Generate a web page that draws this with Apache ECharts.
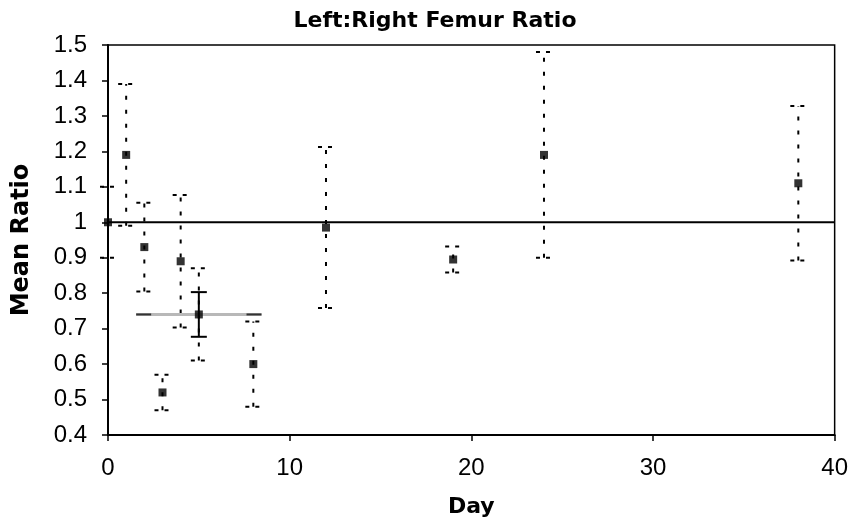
<!DOCTYPE html>
<html>
<head>
<meta charset="utf-8">
<script src="https://cdn.jsdelivr.net/npm/echarts@6/dist/echarts.min.js"></script>
<style>
html,body{margin:0;padding:0;background:#fff;}
#chart{width:851px;height:523px;}
</style>
</head>
<body>
<div id="chart"></div>
<script>
// Data
var days  = [0,   1,    2,    3,    4,    5,    8,    12,    19,    24,   38];
var means = [1.0, 1.19, 0.93, 0.52, 0.89, 0.74, 0.60, 0.985, 0.895, 1.19, 1.11];
var errs  = [0.10,0.20, 0.125,0.05, 0.187,0.13, 0.12, 0.227, 0.037, 0.29, 0.218];
// summary point (solid vertical error bar + grey horizontal bar)
var summaryDay = [5];
var summaryMean = [0.74];
var summaryYErr = [0.063];
var summaryXErr = [3.45];
var yTicks = [0.4,0.5,0.6,0.7,0.8,0.9,1,1.1,1.2,1.3,1.4,1.5];
var xTicks = [0,10,20,30,40];

var FONT = 'Liberation Sans, Arial, sans-serif';
var BFONT = 'DejaVu Sans, sans-serif';
var chart = echarts.init(document.getElementById('chart'));

var pts = days.map(function(d,i){return [d, means[i]];});
var errData = days.map(function(d,i){return [d, means[i]-errs[i], means[i]+errs[i]];});
var sumYData = summaryDay.map(function(d,i){return [d, summaryMean[i]-summaryYErr[i], summaryMean[i]+summaryYErr[i]];});
var sumXData = summaryDay.map(function(d,i){return [d-summaryXErr[i], d+summaryXErr[i], summaryMean[i]];});

function vbar(dashed, cap, color, width){
  return function(params, api){
    var x = api.value(0), lo = api.value(1), hi = api.value(2);
    var pLo = api.coord([x, lo]), pHi = api.coord([x, hi]);
    var st = {stroke: color, lineWidth: width, lineDash: dashed ? [4,10] : null};
    return {type:'group', children:[
      {type:'line', shape:{x1:pLo[0], y1:pLo[1], x2:pHi[0], y2:pHi[1]}, style:st},
      {type:'line', shape:{x1:pLo[0]-cap, y1:pLo[1], x2:pLo[0]+cap, y2:pLo[1]}, style:{stroke:color, lineWidth:width, lineDash: dashed ? [4,6] : null}},
      {type:'line', shape:{x1:pHi[0]-cap, y1:pHi[1], x2:pHi[0]+cap, y2:pHi[1]}, style:{stroke:color, lineWidth:width, lineDash: dashed ? [4,6] : null}}
    ]};
  };
}

chart.setOption({
  backgroundColor:'#fff',
  animation:false,
  title:{text:'Left:Right Femur Ratio', left:430, textAlign:'center', top:5,
    textStyle:{fontFamily:BFONT, fontWeight:'bold', fontSize:22, color:'#000'}},
  grid:{left:108, right:13, top:45, bottom:87, show:true, borderColor:'#000', borderWidth:1.5, backgroundColor:'#fff'},
  xAxis:{type:'value', min:0, max:40, interval:10,
    name:'Day', nameLocation:'middle', nameGap:61,
    nameTextStyle:{fontFamily:BFONT, fontWeight:'bold', fontSize:22, color:'#000'},
    axisLine:{show:true, onZero:false, lineStyle:{color:'#000', width:2}},
    axisTick:{show:true, inside:false, length:6, lineStyle:{color:'#000', width:1.5}},
    axisLabel:{fontFamily:FONT, fontSize:24, color:'#000', margin:21,
      formatter:function(v){return xTicks.indexOf(v)>=0 ? String(v) : '';}},
    splitLine:{show:false}},
  yAxis:{type:'value', min:0.4, max:1.5, interval:0.1,
    name:'Mean Ratio', nameLocation:'middle', nameGap:74,
    nameTextStyle:{fontFamily:BFONT, fontWeight:'bold', fontSize:24, color:'#000'},
    axisLine:{show:true, onZero:false, lineStyle:{color:'#000', width:2}},
    axisTick:{show:true, inside:false, length:6, lineStyle:{color:'#000', width:1.5}},
    axisLabel:{fontFamily:FONT, fontSize:24, color:'#000', margin:21,
      formatter:function(v){
        var r = Math.round(v*10)/10;
        return yTicks.indexOf(r)>=0 ? String(r) : '';
      }},
    splitLine:{show:false}},
  series:[
    {type:'line', data:[[0,1],[40,1]], symbol:'none', silent:true,
      lineStyle:{color:'#000', width:2}, z:1},
    {type:'custom', data:errData, renderItem:vbar(true, 8, '#000', 2), z:2,
      encode:{x:0, y:[1,2]}},
    {type:'custom', data:sumXData, z:3, encode:{x:[0,1], y:2},
      renderItem:function(params, api){
        var a = api.coord([api.value(0), api.value(2)]);
        var b = api.coord([api.value(1), api.value(2)]);
        return {type:'group', children:[
          {type:'line', shape:{x1:a[0], y1:a[1], x2:b[0], y2:b[1]}, style:{stroke:'#b8b8b8', lineWidth:3}},
          {type:'line', shape:{x1:a[0], y1:a[1], x2:a[0]+15, y2:a[1]}, style:{stroke:'#333', lineWidth:2}},
          {type:'line', shape:{x1:b[0]-15, y1:b[1], x2:b[0], y2:b[1]}, style:{stroke:'#333', lineWidth:2}}
        ]};
      }},
    {type:'custom', data:sumYData, renderItem:vbar(false, 8, '#000', 2), z:4,
      encode:{x:0, y:[1,2]}},
    {type:'scatter', data:pts, symbol:'rect', symbolSize:8, z:5,
      itemStyle:{color:'#000'}}
  ]
});
</script>
</body>
</html>
